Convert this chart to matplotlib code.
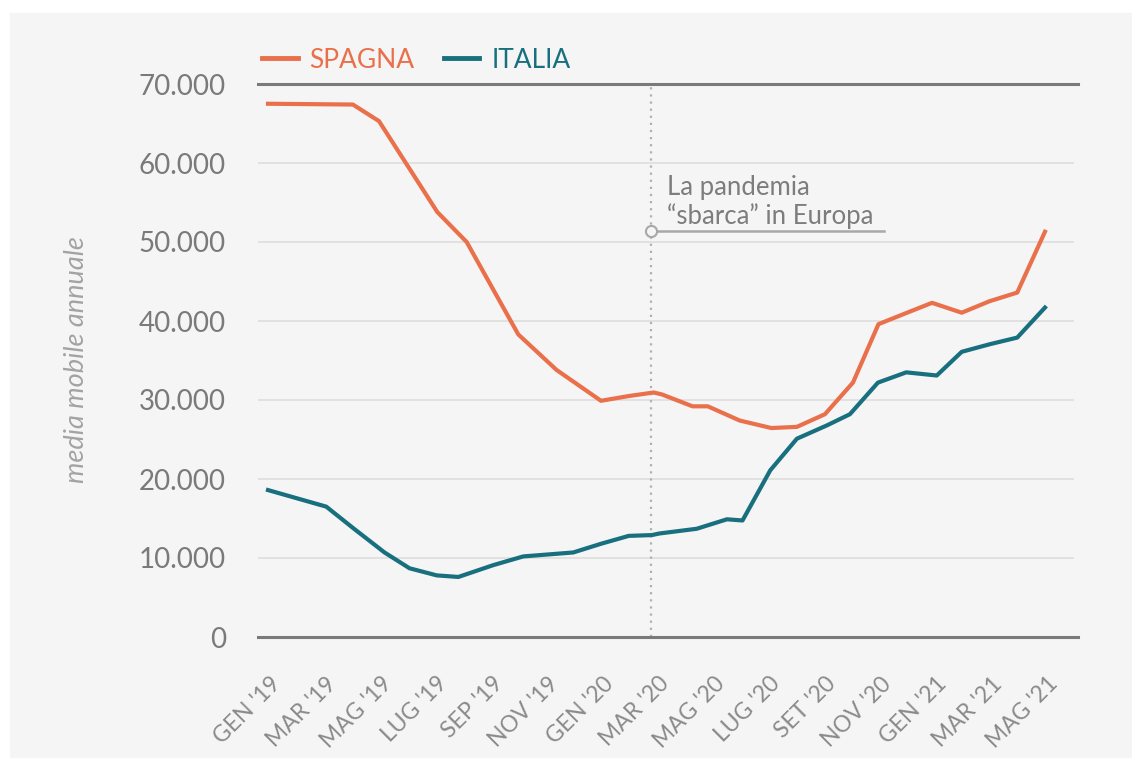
import matplotlib.pyplot as plt
import matplotlib.transforms as mtransforms
from matplotlib.patches import Rectangle

# months counted from GEN '19 (0) to MAG '21 (28)
spain_x = [0, 3.06, 4.0, 6.1, 7.16, 9.02, 10.4, 12.0, 13.0, 13.9, 14.2, 15.3, 15.85,
           17.0, 18.14, 19.06, 20.07, 21.08, 22.0, 23.03, 23.93, 25.0, 26.0, 27.0, 28.0]
spain_y = [67500, 67400, 65300, 53800, 50000, 38300, 33800, 29900, 30500, 30950, 30700,
           29200, 29200, 27400, 26450, 26600, 28200, 32200, 39600, 41050, 42300, 41050,
           42500, 43600, 51300]

italy_x = [0, 2.1, 3.1, 4.2, 5.1, 6.08, 6.86, 8.12, 9.2, 11.0, 12.0, 13.0, 13.83, 14.1,
           15.45, 16.54, 17.1, 18.1, 19.06, 20.15, 20.97, 21.98, 23.0, 24.1, 25.0, 26.0,
           27.0, 28.0]
italy_y = [18600, 16500, 13700, 10700, 8700, 7800, 7600, 9100, 10200, 10700, 11800, 12800,
           12900, 13100, 13700, 14900, 14750, 21100, 25100, 26800, 28200, 32200, 33500,
           33100, 36100, 37050, 37900, 41700]

tick_pos = list(range(0, 29, 2))
tick_labels = ["GEN '19", "MAR '19", "MAG '19", "LUG '19", "SEP '19", "NOV '19",
               "GEN '20", "MAR '20", "MAG '20", "LUG '20", "SET '20", "NOV '20",
               "GEN '21", "MAR '21", "MAG '21"]
y_ticks = list(range(0, 70001, 10000))

event_x = 13.8
event_y = 51400
event_text = "La pandemia\n\u201csbarca\u201d in Europa"

orange = "#E9704B"
teal = "#18707F"
panel = "#f5f5f5"

plt.rcParams['font.family'] = ['Lato', 'DejaVu Sans']

W, H = 1132, 763
fig = plt.figure(figsize=(W / 100, H / 100), dpi=100, facecolor="white")
fig.patches.append(Rectangle((10 / W, 1 - 757 / H), 1 - 10 / W, (757 - 13) / H,
                             transform=fig.transFigure, color=panel, zorder=-10))

ax = fig.add_axes([258 / W, 1 - 637 / H, (1078 - 258) / W, (637 - 84) / H])
ax.set_facecolor("none")
for s in ax.spines.values():
    s.set_visible(False)

ax.set_xlim(-0.36, 29.19)
ax.set_ylim(0, 70000)

for v in y_ticks[1:-1]:
    ax.axhline(v, color="#dddddd", lw=1.2, xmax=0.994, zorder=1)
for v in (y_ticks[0], y_ticks[-1]):
    ax.axhline(v, color="#7a7a7a", lw=2.2, clip_on=False, zorder=2)

ax.axvline(event_x, color="#b0b0b0", ls=(0, (1, 2.2)), lw=1.6, zorder=1)

ax.plot(spain_x, spain_y, color=orange, lw=3, label="SPAGNA", zorder=4)
ax.plot(italy_x, italy_y, color=teal, lw=3, label="ITALIA", zorder=4)

# annotation
ax.plot([event_x, 22.2], [event_y, event_y], color="#a8a8a8", lw=1.8, zorder=3)
ax.plot(event_x, event_y, marker="o", ms=8, mfc=panel, mec="#a8a8a8", mew=1.5, zorder=5)
ax.text(14.38, event_y + 300, event_text, fontsize=18.5, color="#7d7d7d",
        va="bottom", ha="left", linespacing=1.12)

ax.set_yticks(y_ticks)
ax.set_yticklabels([f"{v:,}".replace(",", ".") for v in y_ticks])
ax.tick_params(axis="y", length=0, pad=23, labelsize=20, labelcolor="#7a7a7a")

ax.set_xticks(tick_pos)
ax.set_xticklabels(tick_labels, rotation=45, ha="right", rotation_mode="anchor")
ax.tick_params(axis="x", length=0, pad=26, labelsize=16.5, labelcolor="#8a8a8a")
shift = mtransforms.ScaledTranslation(2 / 100, 0, fig.dpi_scale_trans)
for lab in ax.get_xticklabels():
    lab.set_transform(lab.get_transform() + shift)

fig.text(77 / W, 1 - 360 / H, "media mobile annuale", rotation=90, style="italic",
         fontsize=19.5, color="#a3a3a3", ha="center", va="center")

leg = ax.legend(loc="center left", bbox_to_anchor=(262 / W, 1 - 60 / H),
                bbox_transform=fig.transFigure, ncol=2, frameon=False, fontsize=19,
                handlelength=1.35, handletextpad=0.45, columnspacing=1.1,
                borderpad=0, borderaxespad=0, labelcolor="linecolor")
for h in leg.get_lines():
    h.set_linewidth(3.5)

fig.savefig("out.png", dpi=100, facecolor="white")
